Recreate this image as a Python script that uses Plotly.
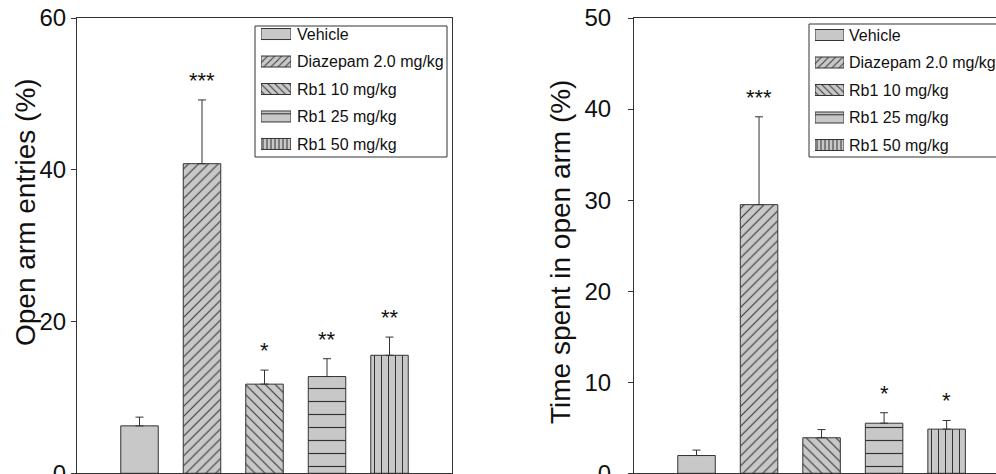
import plotly.graph_objects as go

# ---------------- data ----------------
categories = ["Vehicle", "Diazepam 2.0 mg/kg", "Rb1 10 mg/kg", "Rb1 25 mg/kg", "Rb1 50 mg/kg"]
entries_mean = [6.25, 40.8, 11.75, 12.75, 15.55]
entries_sem = [1.15, 8.4, 1.85, 2.35, 2.4]
entries_sig = ["", "***", "*", "**", "**"]
time_mean = [1.95, 29.5, 3.9, 5.5, 4.85]
time_sem = [0.6, 9.65, 0.9, 1.15, 0.95]
time_sig = ["", "***", "", "*", "*"]
left_ticks = [0, 20, 40, 60]
right_ticks = [0, 10, 20, 30, 40, 50]

# ---------------- styles ----------------
W, H = 996, 474
FONT = "Liberation Sans, Arial, sans-serif"
BAR_FILL = "#c8c8c8"
INK = "#333333"
shapes_pat = ["", "/", "\\", "-", "|"]
sizes_pat = [7, 7, 7, 13, 7]
solid_pat = [0.15, 0.15, 0.15, 0.09, 0.15]
legend_sizes = [5, 5, 5, 11, 4]
legend_solid = [0.2, 0.2, 0.2, 0.1, 0.25]


def px_x(p):
    return p / W


def px_y(p):
    return 1 - p / H


def bar_trace(means, sems, xa, ya):
    return go.Bar(
        x=categories, y=means, xaxis=xa, yaxis=ya, width=0.6,
        marker=dict(color=BAR_FILL, line=dict(color=INK, width=1),
                    pattern=dict(shape=shapes_pat, size=sizes_pat, solidity=solid_pat,
                                 fgcolor=INK, fgopacity=1)),
        error_y=dict(type="data", array=sems, arrayminus=[0] * len(sems), symmetric=False,
                     color=INK, thickness=1, width=4),
        showlegend=False, hoverinfo="skip",
    )


def legend_trace(xa, ya):
    return go.Bar(
        y=categories, x=[1] * len(categories), orientation="h", xaxis=xa, yaxis=ya, width=0.4,
        marker=dict(color=BAR_FILL, line=dict(color=INK, width=1),
                    pattern=dict(shape=shapes_pat, size=legend_sizes, solidity=legend_solid,
                                 fgcolor=INK, fgopacity=1)),
        showlegend=False, hoverinfo="skip",
    )


fig = go.Figure()
fig.add_trace(bar_trace(entries_mean, entries_sem, "x", "y"))
fig.add_trace(bar_trace(time_mean, time_sem, "x2", "y2"))
fig.add_trace(legend_trace("x3", "y3"))
fig.add_trace(legend_trace("x4", "y4"))

annotations = []
for cat, m, s, sig in zip(categories, entries_mean, entries_sem, entries_sig):
    if sig:
        annotations.append(dict(x=cat, y=m + s, xref="x", yref="y", text=sig, showarrow=False,
                                xanchor="center", yanchor="bottom", yshift=5,
                                font=dict(family=FONT, size=22, color="#111")))
for cat, m, s, sig in zip(categories, time_mean, time_sem, time_sig):
    if sig:
        annotations.append(dict(x=cat, y=m + s, xref="x2", yref="y2", text=sig, showarrow=False,
                                xanchor="center", yanchor="bottom", yshift=5,
                                font=dict(family=FONT, size=22, color="#111")))
# axis titles
annotations.append(dict(x=px_x(25), y=px_y(212), xref="paper", yref="paper",
                        xanchor="center", yanchor="middle",
                        text="Open arm entries (%)", textangle=-90, showarrow=False,
                        font=dict(family=FONT, size=28, color="#111")))
annotations.append(dict(x=px_x(561), y=px_y(252), xref="paper", yref="paper",
                        xanchor="center", yanchor="middle",
                        text="Time spent in open arm (%)", textangle=-90, showarrow=False,
                        font=dict(family=FONT, size=28, color="#111")))

axis_common = dict(showgrid=False, zeroline=False, linecolor=INK, linewidth=1, showline=True,
                   automargin=False)
ydom = [0.0015, px_y(18)]

fig.update_layout(
    width=W, height=H,
    margin=dict(l=0, r=0, t=0, b=0, pad=0),
    paper_bgcolor="white", plot_bgcolor="white",
    font=dict(family=FONT, color="#111"),
    bargap=0,
    xaxis=dict(domain=[px_x(77), px_x(452)], range=[-1, 5], type="category",
               showticklabels=False, ticks="", mirror=True, anchor="y", **axis_common),
    yaxis=dict(domain=ydom, range=[0, 60], tickvals=left_ticks, ticks="outside", ticklen=5,
               tickcolor=INK, mirror=True, anchor="x", ticklabeloverflow="allow",
               tickfont=dict(size=24, color="#111"), **axis_common),
    xaxis2=dict(domain=[px_x(634), 1], range=[-1, 4.79], type="category",
                showticklabels=False, ticks="", mirror=True, anchor="y2", **axis_common),
    yaxis2=dict(domain=ydom, range=[0, 50], tickvals=right_ticks, ticks="outside", ticklen=5,
                tickcolor=INK, mirror=False, anchor="x2", ticklabelstandoff=12,
                ticklabeloverflow="allow",
                tickfont=dict(size=24, color="#111"), **axis_common),
    xaxis3=dict(domain=[px_x(261), px_x(291)], range=[0, 1], visible=False, anchor="y3",
                automargin=False),
    yaxis3=dict(domain=[px_y(157.7), px_y(20.3)], type="category", categoryarray=categories,
                range=[4.5, -0.5], side="right", anchor="x3", showgrid=False, zeroline=False,
                showline=False, ticks="", ticklabelstandoff=5, automargin=False,
                ticklabeloverflow="allow",
                tickfont=dict(size=16, color="#111")),
    xaxis4=dict(domain=[px_x(815), px_x(844)], range=[0, 1], visible=False, anchor="y4",
                automargin=False),
    yaxis4=dict(domain=[px_y(158.75), px_y(21.25)], type="category", categoryarray=categories,
                range=[4.5, -0.5], side="right", anchor="x4", showgrid=False, zeroline=False,
                showline=False, ticks="", ticklabelstandoff=4, automargin=False,
                ticklabeloverflow="allow",
                tickfont=dict(size=16, color="#111")),
    annotations=annotations,
    shapes=[
        dict(type="rect", xref="paper", yref="paper", x0=px_x(255), x1=px_x(447),
             y0=px_y(157), y1=px_y(26), line=dict(color=INK, width=1)),
        dict(type="rect", xref="paper", yref="paper", x0=px_x(809), x1=px_x(1003),
             y0=px_y(157), y1=px_y(24), line=dict(color=INK, width=1)),
    ],
)

fig.write_html(
    "out.html",
    config={"displayModeBar": False, "staticPlot": True},
    post_script="document.body.style.margin='0';document.body.style.overflow='hidden';",
)
